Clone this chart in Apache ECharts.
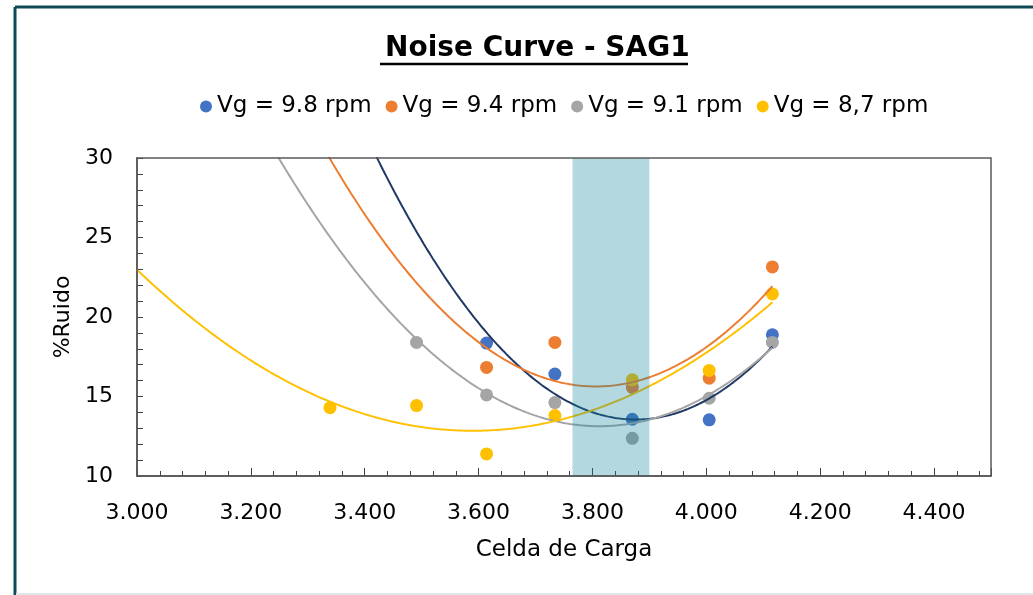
<!DOCTYPE html>
<html>
<head>
<meta charset="utf-8">
<title>Noise Curve - SAG1</title>
<script src="https://cdn.jsdelivr.net/npm/echarts@6/dist/echarts.min.js"></script>
<style>
  html, body { margin: 0; padding: 0; background: #fff; }
  #chart { width: 1033px; height: 595px; }
</style>
</head>
<body>
<div id="chart"></div>
<script>
// celda de carga (x) y %ruido por velocidad
var cargaX = [3.339, 3.491, 3.614, 3.734, 3.870, 4.005, 4.116];
var ruido98 = [null, null, 18.36, 16.41, 13.57, 13.53, 18.88];
var ruido94 = [null, null, 16.83, 18.40, 15.57, 16.15, 23.15];
var ruido91 = [null, 18.40, 15.10, 14.62, 12.37, 14.89, 18.40];
var ruido87 = [14.30, 14.43, 11.39, 13.80, 16.05, 16.64, 21.45];
var seriesNames = ['Vg = 9.8 rpm', 'Vg = 9.4 rpm', 'Vg = 9.1 rpm', 'Vg = 8,7 rpm'];
var bandRange = [3.765, 3.9];

var pointColors = ['#4472C4', '#ED7D31', '#A5A5A5', '#FFC000'];
var trendColors = ['#203864', '#ED7D31', '#A5A5A5', '#FFC000'];
var FONT = 'DejaVu Sans';

// pares x,y sin vacios
var toPairs = function (ys) {
  var out = [];
  for (var i = 0; i < cargaX.length; i++) {
    if (ys[i] != null) out.push([cargaX[i], ys[i]]);
  }
  return out;
};

// tendencia polinomica orden 2 (minimos cuadrados, como Excel)
var quadFit = function (pts) {
  var s = [0, 0, 0, 0, 0], t = [0, 0, 0];
  pts.forEach(function (p) {
    var x = p[0], y = p[1];
    for (var k = 0; k < 5; k++) s[k] += Math.pow(x, k);
    for (var j = 0; j < 3; j++) t[j] += y * Math.pow(x, j);
  });
  var m = [[s[0], s[1], s[2], t[0]], [s[1], s[2], s[3], t[1]], [s[2], s[3], s[4], t[2]]];
  for (var c = 0; c < 3; c++) {
    for (var r = c + 1; r < 3; r++) {
      var f = m[r][c] / m[c][c];
      for (var q = c; q < 4; q++) m[r][q] -= f * m[c][q];
    }
  }
  var b = [0, 0, 0];
  for (var i = 2; i >= 0; i--) {
    var v = m[i][3];
    for (var jj = i + 1; jj < 3; jj++) v -= m[i][jj] * b[jj];
    b[i] = v / m[i][i];
  }
  return b;
};

var trendLine = function (pts) {
  var b = quadFit(pts);
  var xEnd = pts[pts.length - 1][0];
  var out = [];
  for (var x = 3.0; x <= xEnd + 1e-9; x += 0.004) {
    out.push([x, b[0] + b[1] * x + b[2] * x * x]);
  }
  out.push([xEnd, b[0] + b[1] * xEnd + b[2] * xEnd * xEnd]);
  return out;
};

var allSeries = [ruido98, ruido94, ruido91, ruido87];
var series = [];
allSeries.forEach(function (ys, i) {
  var pts = toPairs(ys);
  series.push({
    name: seriesNames[i],
    type: 'scatter',
    symbol: 'circle',
    symbolSize: 13,
    itemStyle: { color: pointColors[i], opacity: 1 },
    data: pts,
    z: 2
  });
  series.push({
    name: seriesNames[i] + ' tendencia',
    type: 'line',
    showSymbol: false,
    symbol: 'none',
    clip: true,
    lineStyle: { color: trendColors[i], width: 2 },
    data: trendLine(pts),
    z: 3,
    silent: true
  });
});
// franja sombreada (encima de los puntos, translucida)
series.push({
  name: 'franja',
  type: 'custom',
  z: 10,
  silent: true,
  clip: true,
  data: [bandRange],
  renderItem: function (params, api) {
    var p0 = api.coord([api.value(0), 30]);
    var p1 = api.coord([api.value(1), 10]);
    return {
      type: 'rect',
      shape: { x: p0[0], y: p0[1], width: p1[0] - p0[0], height: p1[1] - p0[1] },
      style: { fill: 'rgba(18,133,155,0.32)' }
    };
  }
});

var chart = echarts.init(document.getElementById('chart'));
var option = {
  backgroundColor: '#fff',
  animation: false,
  title: {
    text: 'Noise Curve - SAG1',
    left: 380,
    top: 30,
    textStyle: { fontFamily: FONT, fontWeight: 'bold', fontSize: 28, color: '#000' }
  },
  legend: {
    data: seriesNames.map(function (n, i) {
      return { name: n, itemStyle: { color: pointColors[i] } };
    }),
    top: 90,
    left: 195,
    icon: 'circle',
    itemWidth: 12,
    itemHeight: 12,
    itemGap: 14,
    textStyle: { fontFamily: FONT, fontSize: 23, color: '#000' }
  },
  grid: { left: 137, right: 42, top: 158, bottom: 119 },
  xAxis: {
    type: 'value',
    min: 3.0,
    max: 4.5,
    interval: 0.2,
    name: 'Celda de Carga',
    nameLocation: 'middle',
    nameGap: 63,
    nameTextStyle: { fontFamily: FONT, fontSize: 23, color: '#000' },
    axisLine: { show: true, lineStyle: { color: '#404040', width: 1.5 } },
    axisTick: { show: true, inside: true, length: 8, lineStyle: { color: '#404040' } },
    minorTick: { show: true, splitNumber: 5, length: 5, lineStyle: { color: '#404040' } },
    splitLine: { show: false },
    axisLabel: {
      showMaxLabel: false,
      margin: 26,
      fontFamily: FONT,
      fontSize: 22,
      color: '#000',
      formatter: function (v) { return v.toFixed(3); }
    }
  },
  yAxis: {
    type: 'value',
    min: 10,
    max: 30,
    interval: 5,
    name: '%Ruido',
    nameLocation: 'middle',
    nameGap: 62,
    nameTextStyle: { fontFamily: FONT, fontSize: 22, color: '#000' },
    axisLine: { show: true, lineStyle: { color: '#404040', width: 1.5 } },
    axisTick: { show: true, inside: true, length: 6, lineStyle: { color: '#404040' } },
    minorTick: { show: true, splitNumber: 5, length: 6, lineStyle: { color: '#404040' } },
    splitLine: { show: false },
    axisLabel: { margin: 24, fontFamily: FONT, fontSize: 22, color: '#000' }
  },
  graphic: [
    { type: 'line', shape: { x1: 380, y1: 64, x2: 688, y2: 64 }, style: { stroke: '#000', lineWidth: 2.5 } },
    { type: 'rect', shape: { x: 137, y: 158, width: 854, height: 318 }, style: { fill: 'none', stroke: '#595959', lineWidth: 1.5 }, z: 20, silent: true },
    { type: 'line', shape: { x1: 15, y1: 7, x2: 1033, y2: 7 }, style: { stroke: '#0f4a55', lineWidth: 3 } },
    { type: 'line', shape: { x1: 15, y1: 7, x2: 15, y2: 595 }, style: { stroke: '#0f4a55', lineWidth: 3 } },
    { type: 'line', shape: { x1: 16, y1: 594, x2: 1033, y2: 594 }, style: { stroke: '#dfe7e7', lineWidth: 2 } }
  ],
  series: series
};
chart.setOption(option);
</script>
</body>
</html>
